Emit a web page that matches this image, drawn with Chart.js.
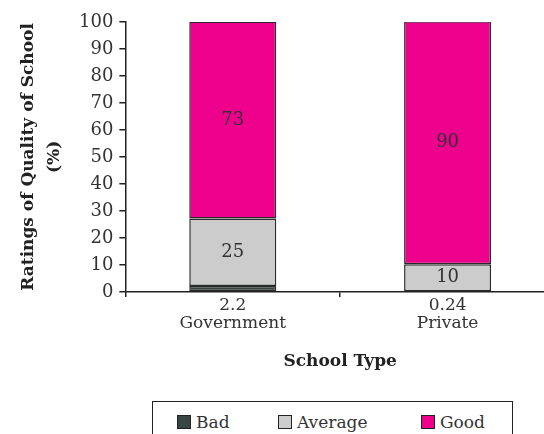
<!DOCTYPE html>
<html>
<head>
<meta charset="utf-8">
<script src="https://cdn.jsdelivr.net/npm/chart.js@4"></script>
<style>
  html, body { margin: 0; padding: 0; background: #fff; overflow: hidden; }
  #wrap { position: relative; width: 560px; height: 380px; }
  #legend {
    position: absolute; left: 152px; top: 401px; width: 359px; height: 50px;
    border: 1.5px solid #222; font-family: 'DejaVu Serif'; font-size: 17px; color: #333;
  }
  #legend .item { position: absolute; top: 10px; white-space: nowrap; }
  #legend .sw { display: inline-block; width: 12px; height: 12px; border: 1px solid #222; margin-right: 5px; vertical-align: -1px; }
</style>
</head>
<body>
<div id="wrap"><canvas id="myChart"></canvas></div>
<div id="legend"></div>
<script>
// data
const categories = ['Government', 'Private'];
const seriesNames = ['Bad', 'Average', 'Good'];
const badValues = [2.2, 0.24];
const averageValues = [25, 10];
const goodValues = [73, 90];
const yTicks = [0, 10, 20, 30, 40, 50, 60, 70, 80, 90, 100];

const FONT = 'DejaVu Serif';
const colors = ['#3a4643', '#cccccc', '#ec008c'];

// x labels: value of "Bad" on the first line, category on the second
const xLabels = categories.map((c, i) => [String(badValues[i]), c]);

// print values inside the bigger segments
const segmentLabels = {
    id: 'segmentLabels',
    afterDatasetsDraw(chart) {
        const ctx = chart.ctx;
        ctx.save();
        ctx.font = '18px ' + FONT;
        ctx.fillStyle = '#333';
        ctx.textAlign = 'center';
        ctx.textBaseline = 'middle';
        [1, 2].forEach(di => {
            const meta = chart.getDatasetMeta(di);
            meta.data.forEach((bar, i) => {
                const v = chart.data.datasets[di].data[i];
                if (v < 5) return;
                ctx.fillText(String(v), bar.x, (bar.y + bar.base) / 2);
            });
        });
        ctx.restore();
    }
};

const chart = new Chart(document.getElementById('myChart'), {
    type: 'bar',
    data: {
        labels: xLabels,
        datasets: [badValues, averageValues, goodValues].map((vals, i) => ({
            label: seriesNames[i],
            data: vals,
            backgroundColor: colors[i],
            borderColor: '#2a2a2a',
            borderWidth: 1.5,
            borderSkipped: false,
            barPercentage: 0.81,
            categoryPercentage: 0.5
        }))
    },
    options: {
        responsive: true,
        maintainAspectRatio: false,
        animation: false,
        layout: { padding: { top: 22, right: 5, left: 12, bottom: 4 } },
        scales: {
            x: {
                stacked: true,
                grid: { display: true, drawOnChartArea: false, color: '#222', tickLength: 5, lineWidth: 1.5 },
                border: { color: '#222', width: 1.5 },
                ticks: { color: '#333', font: { family: FONT, size: 17, lineHeight: 1.05 }, padding: 0, maxRotation: 0 },
                title: { display: true, text: 'School Type', color: '#222', font: { family: FONT, size: 17, weight: 'bold' }, padding: { top: 19 } }
            },
            y: {
                stacked: true,
                min: 0,
                max: 100,
                afterBuildTicks: axis => { axis.ticks = yTicks.map(v => ({ value: v })); },
                grid: { display: true, drawOnChartArea: false, color: '#222', tickLength: 6, lineWidth: 1.5 },
                border: { color: '#222', width: 1.5 },
                ticks: { color: '#333', font: { family: FONT, size: 18 }, padding: 6 },
                title: {
                    display: true,
                    text: ['Ratings of Quality of School', '(%)'],
                    color: '#222',
                    font: { family: FONT, size: 17, weight: 'bold', lineHeight: 1.5 },
                    padding: { bottom: 6 }
                }
            }
        },
        plugins: {
            legend: { display: false },
            tooltip: { enabled: false }
        }
    },
    plugins: [segmentLabels]
});

// legend under the chart, built from the datasets
const legendX = [24, 125, 268];
const legend = document.getElementById('legend');
chart.data.datasets.forEach((ds, i) => {
    const item = document.createElement('div');
    item.className = 'item';
    item.style.left = legendX[i] + 'px';
    item.innerHTML = '<span class="sw" style="background:' + ds.backgroundColor + '"></span>' + ds.label;
    legend.appendChild(item);
});
</script>
</body>
</html>
